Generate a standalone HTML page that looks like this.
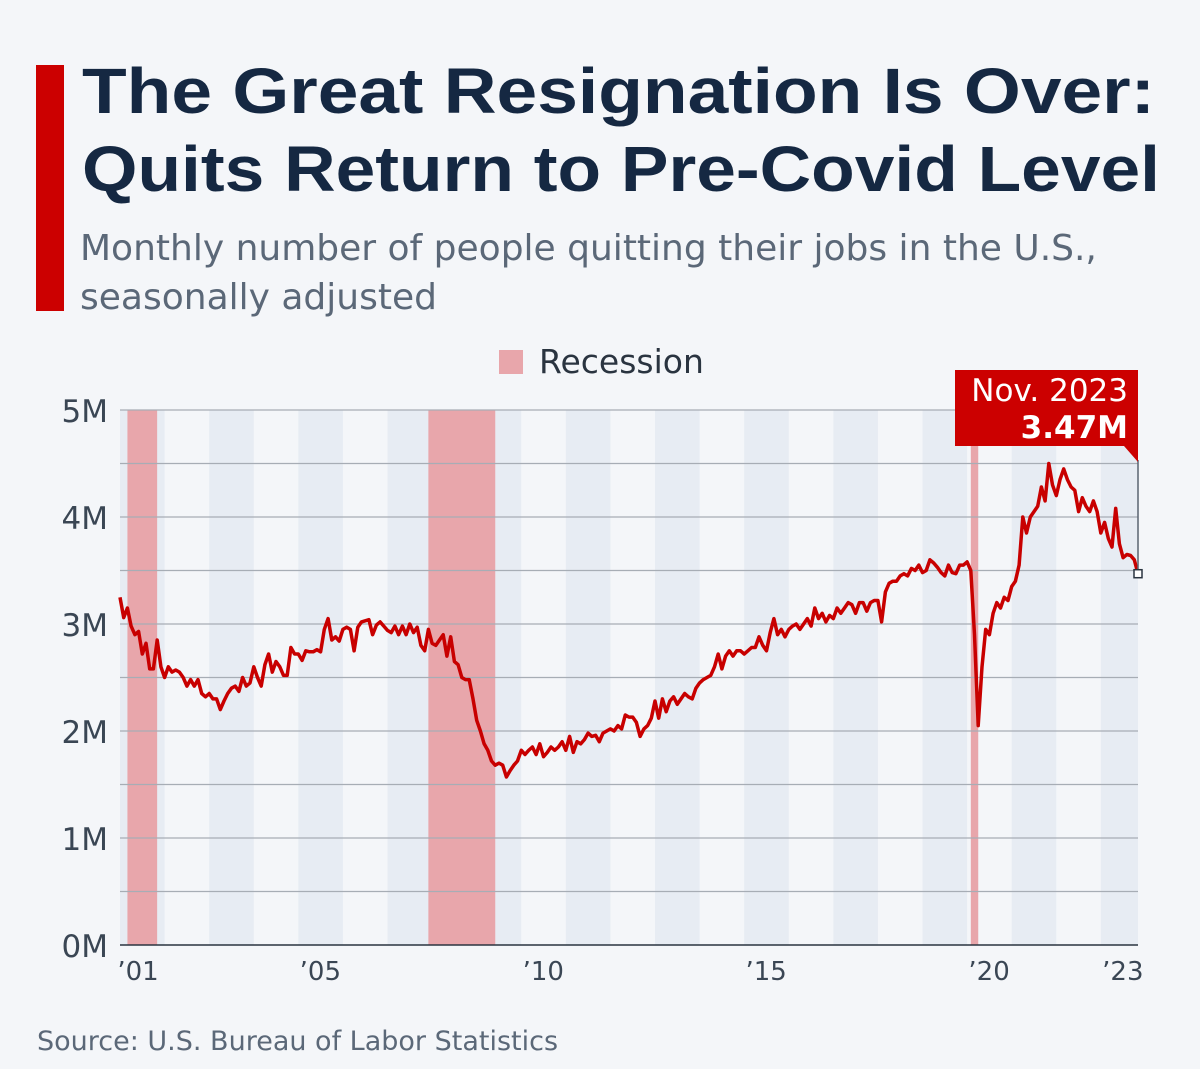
<!DOCTYPE html>
<html><head><meta charset="utf-8"><style>
body{margin:0;background:#f4f6f9;}
#wrap{position:relative;width:1200px;height:1069px;background:#f4f6f9;font-family:"Liberation Sans","DejaVu Sans",sans-serif;overflow:hidden}
#bar{position:absolute;left:36px;top:65px;width:28px;height:246px;background:#cc0000}
.tl{position:absolute;left:82px;font-size:64px;font-weight:bold;color:#152842;line-height:78px;font-family:"Liberation Sans","DejaVu Sans",sans-serif;white-space:nowrap;transform-origin:0 0}
#sub{position:absolute;left:80px;top:224px;font-size:36px;color:#5b6878;line-height:49px;font-family:"DejaVu Sans","Liberation Sans",sans-serif;white-space:nowrap}
#src{position:absolute;left:37px;top:1026px;font-size:27px;color:#5b6878;font-family:"DejaVu Sans","Liberation Sans",sans-serif}
svg text{font-family:"DejaVu Sans","Liberation Sans",sans-serif}
</style></head><body>
<div id="wrap">
<div id="bar"></div>
<div class="tl" id="t1" style="top:52px">The Great Resignation Is Over:</div>
<div class="tl" id="t2" style="top:130px">Quits Return to Pre-Covid Level</div>
<div id="sub">Monthly number of people quitting their jobs in the U.S.,<br>seasonally adjusted</div>
<svg id="chart" width="1200" height="1069" style="position:absolute;left:0;top:0"></svg>
<div id="src">Source: U.S. Bureau of Labor Statistics</div>
</div>
<script>
[["t1",1073],["t2",1078]].forEach(([id,w])=>{const e=document.getElementById(id);const s=w/e.getBoundingClientRect().width;e.style.transform='scaleX('+s+')';});

const startYear = 2001, startMonth = 0; // Jan 2001 (0-based month)
const quits = [3.25,
3.06,3.15,2.98,2.9,2.93,2.72,2.82,2.58,2.58,2.85,2.6,
2.5,2.6,2.55,2.57,2.55,2.5,2.42,2.48,2.42,2.48,2.35,2.32,
2.35,2.3,2.3,2.2,2.28,2.35,2.4,2.42,2.37,2.5,2.42,2.45,
2.6,2.5,2.42,2.62,2.72,2.55,2.65,2.6,2.52,2.52,2.78,2.72,
2.72,2.66,2.75,2.74,2.74,2.76,2.74,2.95,3.05,2.85,2.88,2.84,
2.95,2.97,2.95,2.75,2.97,3.02,3.03,3.04,2.9,2.99,3.02,2.98,
2.94,2.92,2.98,2.9,2.98,2.9,3.0,2.92,2.97,2.8,2.75,2.95,
2.82,2.8,2.85,2.9,2.7,2.88,2.65,2.62,2.5,2.48,2.48,2.3,
2.1,2.0,1.88,1.82,1.72,1.68,1.7,1.68,1.57,1.63,1.68,1.72,
1.82,1.78,1.82,1.85,1.78,1.88,1.76,1.8,1.85,1.82,1.85,1.9,
1.82,1.95,1.8,1.9,1.88,1.92,1.98,1.95,1.96,1.9,1.98,2.0,
2.02,2.0,2.05,2.02,2.15,2.13,2.13,2.08,1.95,2.02,2.05,2.12,
2.28,2.12,2.3,2.18,2.28,2.32,2.25,2.3,2.35,2.32,2.3,2.4,
2.45,2.48,2.5,2.52,2.6,2.72,2.58,2.7,2.75,2.7,2.75,2.75,
2.72,2.75,2.78,2.78,2.88,2.8,2.75,2.92,3.05,2.9,2.95,2.88,
2.95,2.98,3.0,2.95,3.0,3.05,2.98,3.15,3.05,3.1,3.02,3.08,
3.05,3.15,3.1,3.15,3.2,3.18,3.1,3.2,3.2,3.12,3.2,3.22,
3.22,3.02,3.3,3.38,3.4,3.4,3.45,3.47,3.45,3.52,3.5,3.55,
3.48,3.5,3.6,3.57,3.53,3.48,3.45,3.55,3.48,3.47,3.55,3.55,
3.58,3.5,2.9,2.05,2.6,2.95,2.9,3.1,3.2,3.15,3.25,3.22,
3.35,3.4,3.55,4.0,3.85,4.0,4.05,4.1,4.28,4.15,4.5,4.3,
4.2,4.35,4.45,4.35,4.28,4.25,4.05,4.18,4.1,4.05,4.15,4.05,
3.85,3.95,3.8,3.72,4.08,3.75,3.62,3.65,3.64,3.6,3.47];
const yTicks = [0,1,2,3,4,5];
const yTickLabels = ["0M","1M","2M","3M","4M","5M"];
const xTickYears = [2001,2005,2010,2015,2020,2023];
const xTickLabels = ["’01","’05","’10","’15","’20","’23"];
const recessionStarts = [[2001,2],[2007,11],[2020,1]];
const recessionEnds = [[2001,10],[2009,5],[2020,3]];
const bandYears = [2001,2003,2005,2007,2009,2011,2013,2015,2017,2019,2021,2023];
const calloutLabel = "Nov. 2023";
const calloutValue = "3.47M";

const X0=120,X1=1138,Y0=945,Y1=410,NS="http://www.w3.org/2000/svg";
const n=quits.length;
function idx(y,m){return (y-startYear)*12+(m-startMonth);}
function x(i){return X0+(X1-X0)*i/(n-1);}
function y(v){return Y0-(Y0-Y1)*v/5;}
const svg=document.getElementById('chart');
function mk(t,a,p){const e=document.createElementNS(NS,t);for(const k in a)e.setAttribute(k,a[k]);(p||svg).appendChild(e);return e;}

bandYears.forEach(yr=>{
  const a=x(Math.max(0,idx(yr,0))),b=Math.min(X1,x(idx(yr+1,0)));
  const r=mk('rect',{x:a,y:Y1,width:b-a,height:Y0-Y1,fill:'#e7ecf3'});
  
  
});
recessionStarts.forEach((s,k)=>{
  const e=recessionEnds[k];
  const a=x(idx(s[0],s[1])),b=x(idx(e[0],e[1]));
  const r=mk('rect',{x:a,y:Y1,width:Math.max(6,b-a),height:Y0-Y1,fill:'#e8a6ab'});
  
  
});
for(let v=0;v<=5;v+=0.5){
  const l=mk('line',{x1:X0,x2:X1,y1:y(v),y2:y(v),stroke:v===0?'#2a3440':'#a7adb5','stroke-width':v===0?1.5:1.2});
  
  
}
yTicks.forEach((v,k)=>{
  const t=mk('text',{x:108,y:y(v)+12,'text-anchor':'end','font-size':31,fill:'#3a4654'});
  t.textContent=yTickLabels[k];
  
  
});
xTickYears.forEach((yr,k)=>{
  const t=mk('text',{x:x(idx(yr,0))+(yr===2001?18:22),y:980,'text-anchor':'middle','font-size':26,fill:'#3a4654'});
  t.textContent=xTickLabels[k];
  
  
});
const pts=quits.map((v,i)=>x(i).toFixed(1)+','+y(v).toFixed(1)).join(' ');
const line=mk('polyline',{points:pts,fill:'none',stroke:'#c80000','stroke-width':3.5,'stroke-linejoin':'round'});


const lx=x(n-1),ly=y(quits[n-1]);
const lead=mk('line',{x1:lx,x2:lx,y1:460,y2:ly,stroke:'#5a6470','stroke-width':1.5});


const box=mk('path',{d:`M955 370 H${lx} V462 L${lx-14} 446 H955 Z`,fill:'#cc0000'});


const t1=mk('text',{x:lx-10,y:401,'text-anchor':'end','font-size':31,fill:'#fff'});
t1.textContent=calloutLabel;


const t2=mk('text',{x:lx-10,y:438,'text-anchor':'end','font-size':31,'font-weight':'bold',fill:'#fff'});
t2.textContent=calloutValue;


const mkr=mk('rect',{x:lx-4,y:ly-4,width:8,height:8,fill:'#fff',stroke:'#2a3440','stroke-width':1.5});


const lg=mk('rect',{x:499,y:350,width:24,height:24,fill:'#e8a6ab'});


const lt=mk('text',{x:539,y:373,'font-size':33,fill:'#2a3440'});
lt.textContent='Recession';


</script>
</body></html>
